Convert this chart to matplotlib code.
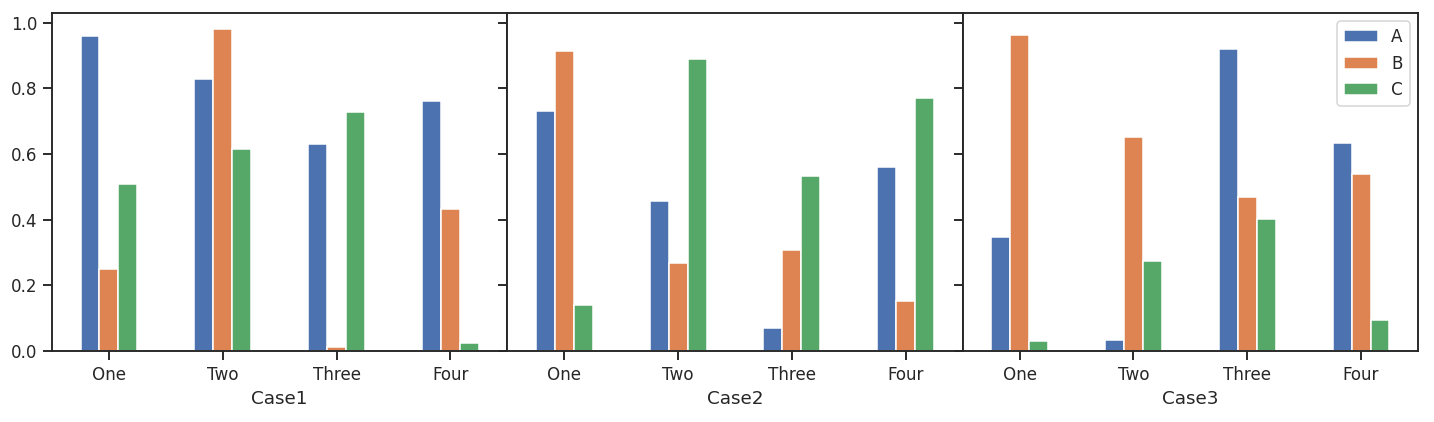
import matplotlib
matplotlib.use("Agg")
import matplotlib.pyplot as plt
import seaborn as sns
import pandas as pd

sns.set_theme(style="ticks")

# categories and series
categories = ["One", "Two", "Three", "Four"]
series = ["A", "B", "C"]
cases = ["Case1", "Case2", "Case3"]

# values read per case, one list per series
case1_a = [0.958, 0.829, 0.629, 0.761]
case1_b = [0.250, 0.980, 0.011, 0.434]
case1_c = [0.510, 0.616, 0.727, 0.024]

case2_a = [0.730, 0.456, 0.071, 0.559]
case2_b = [0.915, 0.269, 0.308, 0.152]
case2_c = [0.140, 0.889, 0.532, 0.771]

case3_a = [0.348, 0.035, 0.920, 0.633]
case3_b = [0.963, 0.653, 0.468, 0.539]
case3_c = [0.031, 0.273, 0.401, 0.095]

frames = [
    pd.DataFrame({"A": case1_a, "B": case1_b, "C": case1_c}, index=categories),
    pd.DataFrame({"A": case2_a, "B": case2_b, "C": case2_c}, index=categories),
    pd.DataFrame({"A": case3_a, "B": case3_b, "C": case3_c}, index=categories),
]

dpi = 110
fig, axes = plt.subplots(1, 3, figsize=(1434 / dpi, 422 / dpi), dpi=dpi, sharey=True)
fig.subplots_adjust(left=0.0363, right=0.9888, top=0.969, bottom=0.168, wspace=0)

for i, (ax, df, name) in enumerate(zip(axes, frames, cases)):
    df.plot.bar(ax=ax, rot=0, legend=(i == 2))
    ax.set_xlabel(name)

plt.savefig("out.png")
